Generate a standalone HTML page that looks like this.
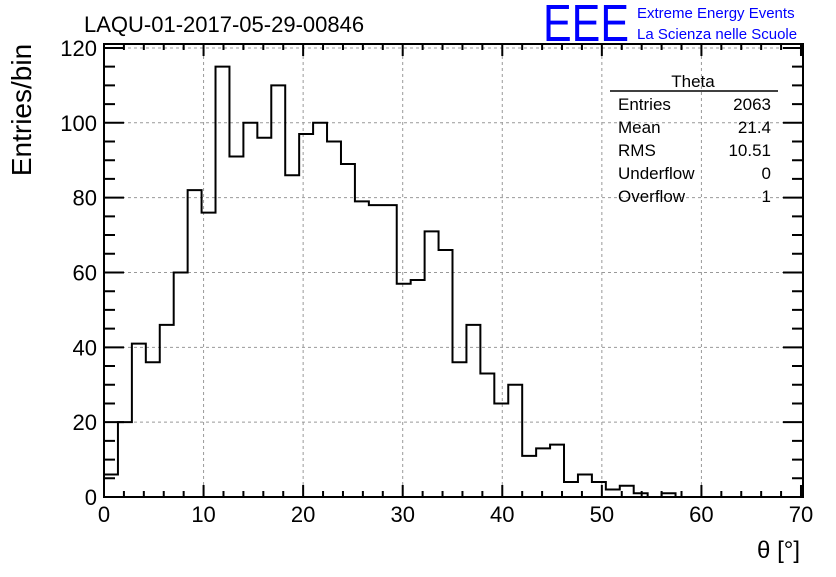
<!DOCTYPE html>
<html><head><meta charset="utf-8"><style>
body{margin:0;background:#fff;}
svg text{font-family:"Liberation Sans",sans-serif;}
</style></head><body>
<svg id="c" width="836" height="572" xmlns="http://www.w3.org/2000/svg">
<rect width="836" height="572" fill="#fff"/>
<text x="84" y="32" font-size="22">LAQU-01-2017-05-29-00846</text>
<text x="543" y="41" font-size="52" fill="#0000ff" textLength="86" lengthAdjust="spacingAndGlyphs">EEE</text>
<text x="637" y="18" font-size="15" fill="#0000ff">Extreme Energy Events</text>
<text x="637" y="39" font-size="15" fill="#0000ff">La Scienza nelle Scuole</text>
<g id="grid"></g><g id="ticks"></g>
<path id="hist" fill="none" stroke="#000" stroke-width="2"/>
<rect x="104" y="44" width="699" height="453" fill="none" stroke="#000" stroke-width="2"/>
<g id="labels"></g>
<text transform="translate(31,110) rotate(-90)" font-size="28" text-anchor="middle">Entries/bin</text>
<text x="800" y="558" font-size="24" text-anchor="end">θ [°]</text>
<g>
<text x="693" y="87" font-size="17" text-anchor="middle">Theta</text>
<line x1="610" y1="91" x2="778" y2="91" stroke="#000" stroke-width="1.5"/>
<g id="stats"></g>
</g>
</svg>
<script>
const counts=[6,20,41,36,46,60,82,76,115,91,100,96,110,86,97,100,95,89,79,78,78,57,58,71,66,36,46,33,25,30,11,13,14,4,6,4,2,3,1,0,1,0,0,0,0,0,0,0,0,0];
const binWidth=1.4;
const xTicks=[0,10,20,30,40,50,60,70];
const yTicks=[0,20,40,60,80,100,120];
const statNames=["Entries","Mean","RMS","Underflow","Overflow"];
const statVals=["2063","21.4","10.51","0","1"];
const NS="http://www.w3.org/2000/svg";
const X=v=>104+v*9.957, Y=v=>497-v*3.742;
function mk(t,a,p){const e=document.createElementNS(NS,t);for(const k in a)e.setAttribute(k,a[k]);p.appendChild(e);return e;}
const grid=document.getElementById('grid'),ticks=document.getElementById('ticks'),labels=document.getElementById('labels');
xTicks.forEach(v=>{
 if(v>0&&v<70){const l=mk('line',{x1:X(v),x2:X(v),y1:44,y2:497,stroke:'#999','stroke-dasharray':'3,3'},grid);
 
 }
 const t=mk('text',{x:X(v),y:522,'font-size':22,'text-anchor':'middle'},labels);t.textContent=v;
 
 
});
yTicks.forEach(v=>{
 if(v>0){const l=mk('line',{x1:104,x2:803,y1:Y(v),y2:Y(v),stroke:'#999','stroke-dasharray':'3,3'},grid);
 
 }
 const t=mk('text',{x:97,y:Y(v)+8,'font-size':22,'text-anchor':'end'},labels);t.textContent=v;
 
 
});
let d='';
for(let v=0;v<=70;v+=2){const L=v%10==0?12:6;d+=`M${X(v)},497v${-L}M${X(v)},44v${L}`;}
for(let v=0;v<=120;v+=5){const L=v%20==0?20:11;d+=`M104,${Y(v)}h${L}M803,${Y(v)}h${-L}`;}
const tk=mk('path',{d:d,stroke:'#000','stroke-width':2},ticks);


let h=`M${X(0)},${Y(0)}`;
counts.forEach((c,i)=>{h+=`L${X(i*binWidth)},${Y(c)}L${X((i+1)*binWidth)},${Y(c)}`;});
h+=`L${X(counts.length*binWidth)},${Y(0)}`;
document.getElementById('hist').setAttribute('d',h);
const st=document.getElementById('stats');
statNames.forEach((n,i)=>{
 const y=110+i*23;
 const a=mk('text',{x:618,y:y,'font-size':17},st);a.textContent=n;
 
 
 const b=mk('text',{x:771,y:y,'font-size':17,'text-anchor':'end'},st);b.textContent=statVals[i];
 
 
});
</script>
</body></html>
